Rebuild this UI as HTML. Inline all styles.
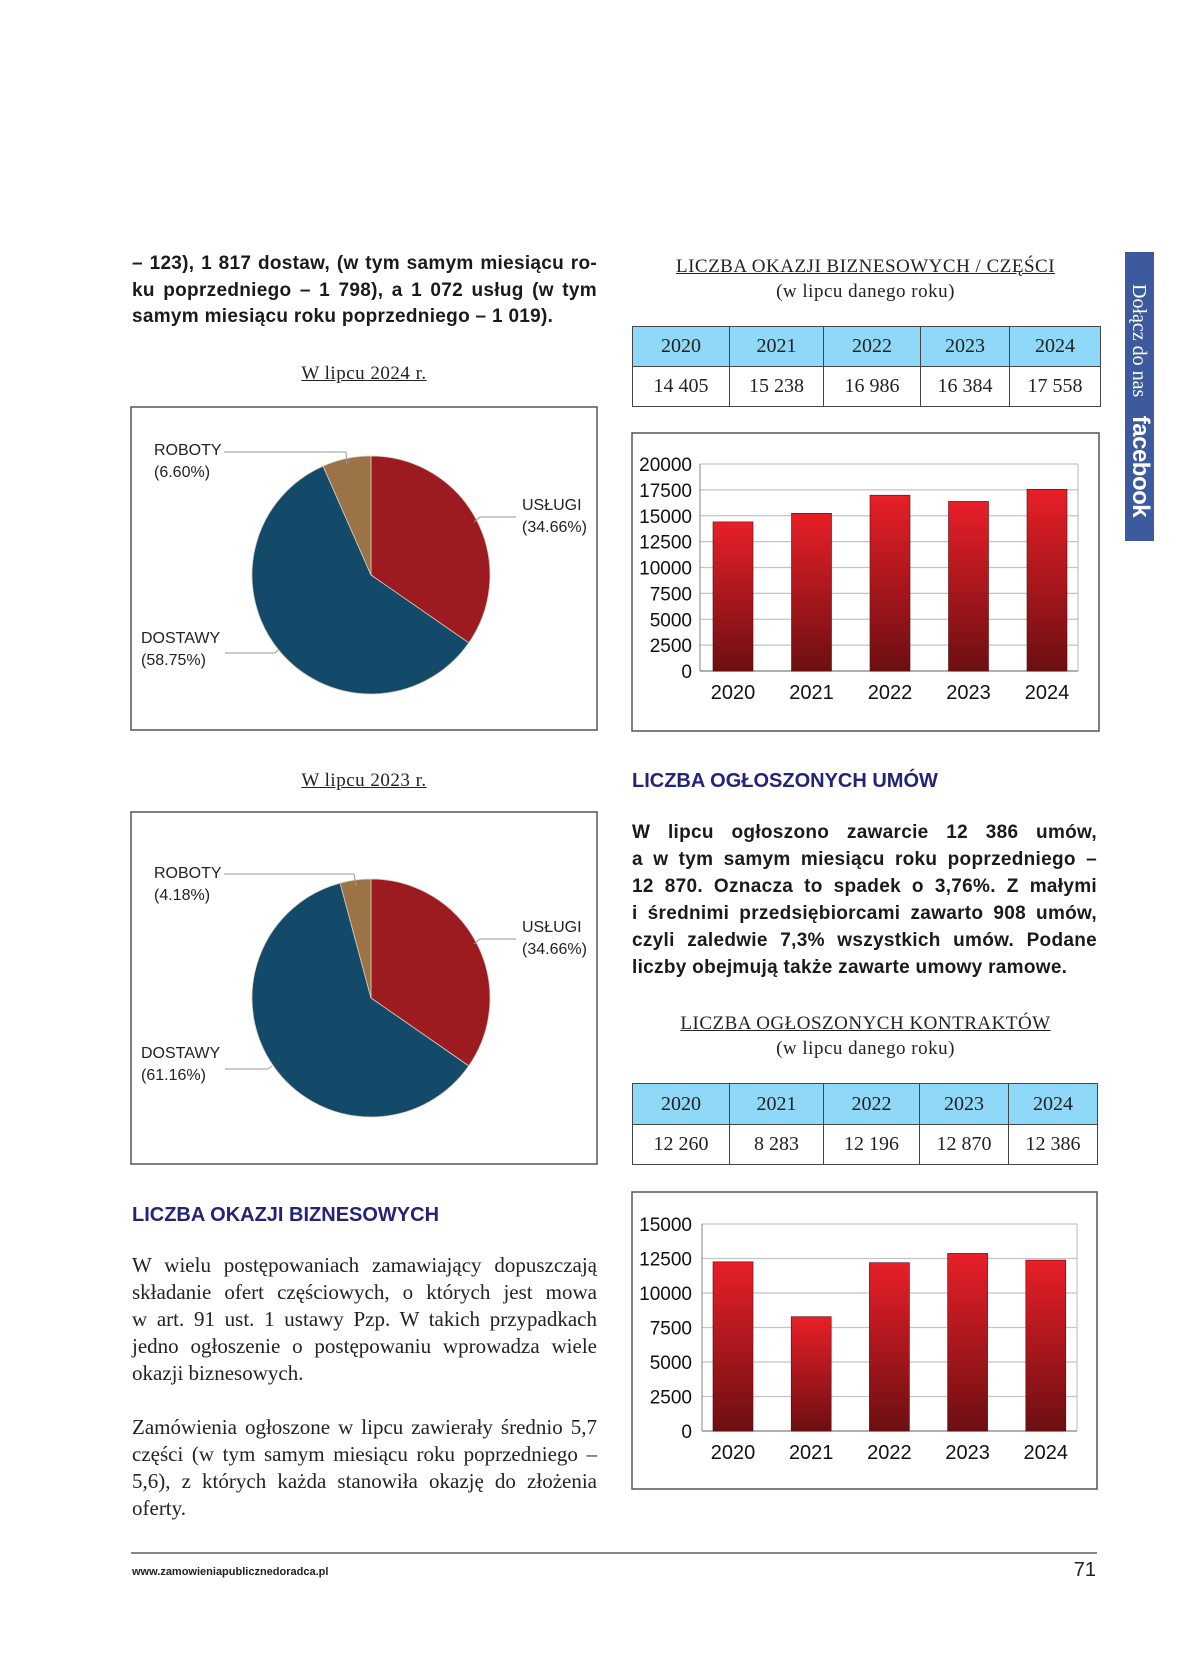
<!DOCTYPE html>
<html><head><meta charset="utf-8">
<style>
body{margin:0;width:1200px;height:1655px;background:#fff;position:relative;overflow:hidden;font-family:"Liberation Sans",sans-serif;color:#1a1a1a}
.abs{position:absolute}
.ln{position:absolute;white-space:nowrap;text-align:justify;text-align-last:justify}
.bold{font-weight:bold;font-size:19px;line-height:27px;letter-spacing:0.3px}
.serif{font-family:"Liberation Serif",serif;font-size:21px;line-height:27px;color:#222}
.head{font-weight:bold;font-size:20px;color:#23237a}
.ctitle{font-family:"Liberation Serif",serif;font-size:19px;color:#222;text-align:center;letter-spacing:0.5px}
table.t{position:absolute;border-collapse:collapse;font-family:"Liberation Serif",serif;font-size:20px;color:#222;table-layout:fixed}
table.t td{border:1px solid #444;text-align:center;padding:0}
table.t tr.h td{background:#8fd8f7}
</style></head><body>

<div class="ln bold" style="left:132px;top:250px;width:465px">– 123), 1 817 dostaw, (w tym samym miesiącu ro-</div>
<div class="ln bold" style="left:132px;top:277px;width:465px">ku poprzedniego – 1 798), a 1 072 usług (w tym</div>
<div class="abs bold" style="left:132px;top:303px;white-space:nowrap">samym miesiącu roku poprzedniego – 1 019).</div>

<div class="abs ctitle" style="left:214px;width:300px;top:363px;text-decoration:underline">W lipcu 2024 r.</div>
<div class="abs ctitle" style="left:214px;width:300px;top:770px;text-decoration:underline">W lipcu 2023 r.</div>

<div class="abs ctitle" style="left:632px;width:467px;top:256px"><u>LICZBA OKAZJI BIZNESOWYCH / CZĘŚCI</u><br><span style="line-height:27px">(w lipcu danego roku)</span></div>

<table class="t" style="left:632px;top:326px;width:468px">
<colgroup><col style="width:97px"><col style="width:94px"><col style="width:97px"><col style="width:89px"><col style="width:91px"></colgroup>
<tr class="h" style="height:40px"><td>2020</td><td>2021</td><td>2022</td><td>2023</td><td>2024</td></tr>
<tr style="height:40px"><td>14 405</td><td>15 238</td><td>16 986</td><td>16 384</td><td>17 558</td></tr>
</table>

<div class="abs head" style="left:632px;top:770px">LICZBA OGŁOSZONYCH UMÓW</div>
<div class="ln bold" style="left:632px;top:819px;width:465px">W lipcu ogłoszono zawarcie 12 386 umów,</div>
<div class="ln bold" style="left:632px;top:846px;width:465px">a w tym samym miesiącu roku poprzedniego –</div>
<div class="ln bold" style="left:632px;top:873px;width:465px">12 870. Oznacza to spadek o 3,76%. Z małymi</div>
<div class="ln bold" style="left:632px;top:900px;width:465px">i średnimi przedsiębiorcami zawarto 908 umów,</div>
<div class="ln bold" style="left:632px;top:927px;width:465px">czyli zaledwie 7,3% wszystkich umów. Podane</div>
<div class="abs bold" style="left:632px;top:954px;white-space:nowrap">liczby obejmują także zawarte umowy ramowe.</div>

<div class="abs ctitle" style="left:632px;width:467px;top:1013px"><u>LICZBA OGŁOSZONYCH KONTRAKTÓW</u><br><span style="line-height:27px">(w lipcu danego roku)</span></div>

<table class="t" style="left:632px;top:1083px;width:465px">
<colgroup><col style="width:97px"><col style="width:94px"><col style="width:96px"><col style="width:89px"><col style="width:89px"></colgroup>
<tr class="h" style="height:41px"><td>2020</td><td>2021</td><td>2022</td><td>2023</td><td>2024</td></tr>
<tr style="height:40px"><td>12 260</td><td>8 283</td><td>12 196</td><td>12 870</td><td>12 386</td></tr>
</table>

<div class="abs head" style="left:132px;top:1204px">LICZBA OKAZJI BIZNESOWYCH</div>
<div class="ln serif" style="left:132px;top:1252px;width:465px">W wielu postępowaniach zamawiający dopuszczają</div>
<div class="ln serif" style="left:132px;top:1279px;width:465px">składanie ofert częściowych, o których jest mowa</div>
<div class="ln serif" style="left:132px;top:1306px;width:465px">w art. 91 ust. 1 ustawy Pzp. W takich przypadkach</div>
<div class="ln serif" style="left:132px;top:1333px;width:465px">jedno ogłoszenie o postępowaniu wprowadza wiele</div>
<div class="abs serif" style="left:132px;top:1360px;white-space:nowrap">okazji biznesowych.</div>
<div class="ln serif" style="left:132px;top:1414px;width:465px">Zamówienia ogłoszone w lipcu zawierały średnio 5,7</div>
<div class="ln serif" style="left:132px;top:1441px;width:465px">części (w tym samym miesiącu roku poprzedniego –</div>
<div class="ln serif" style="left:132px;top:1468px;width:465px">5,6), z których każda stanowiła okazję do złożenia</div>
<div class="abs serif" style="left:132px;top:1495px;white-space:nowrap">oferty.</div>

<div class="abs" style="left:131px;top:1552px;width:966px;height:2px;background:#888"></div>
<div class="abs" style="left:132px;top:1566px;font-size:11px;font-weight:bold;color:#222">www.zamowieniapublicznedoradca.pl</div>
<div class="abs" style="left:1060px;top:1559px;width:36px;text-align:right;font-size:20px;color:#222">71</div>

<div class="abs" style="left:1125px;top:252px;width:29px;height:289px;background:#3d5a9e">
  <div class="abs" style="left:29px;top:32px;transform-origin:0 0;transform:rotate(90deg);white-space:nowrap;color:#fff">
    <span style="font-family:'Liberation Serif',serif;font-size:20px">Dołącz do nas</span>
    <span style="font-weight:bold;font-size:24px;margin-left:14px;letter-spacing:-0.5px">facebook</span>
  </div>
</div>

<svg class="abs" style="left:0;top:0" width="1200" height="1655" id="charts">
<defs><linearGradient id="bg" x1="0" y1="0" x2="0" y2="1"><stop offset="0" stop-color="#e81f28"/><stop offset="1" stop-color="#6c0f12"/></linearGradient></defs>
</svg>

<script>
const years = ["2020","2021","2022","2023","2024"];
const opportunities = [14405,15238,16986,16384,17558];
const oppTicks = [0,2500,5000,7500,10000,12500,15000,17500,20000];
const contracts = [12260,8283,12196,12870,12386];
const contractTicks = [0,2500,5000,7500,10000,12500,15000];
const pieCats = ["USŁUGI","DOSTAWY","ROBOTY"];
const pie2024 = [34.66,58.75,6.60];
const pie2023 = [34.66,61.16,4.18];
const pieColors = ["#9b1b21","#134a69","#9b7346"];

const NS="http://www.w3.org/2000/svg";
const svg=document.getElementById('charts');
function mk(tag,attrs,parent){const e=document.createElementNS(NS,tag);for(const k in attrs)e.setAttribute(k,attrs[k]);(parent||svg).appendChild(e);return e;}

function barChart(box,plot,vals,ticks,maxV,step,name){
  const g=mk('g',{});
  
  
  mk('rect',{x:box.x,y:box.y,width:box.w,height:box.h,fill:'#fff',stroke:'#555','stroke-width':1.5},g);
  const y=v=>plot.b-(v/maxV)*(plot.b-plot.t);
  const xc=i=>plot.c0+i*step;
  ticks.forEach(t=>{
    mk('line',{x1:plot.l,x2:plot.r,y1:y(t),y2:y(t),stroke:'#c4c4c4','stroke-width':1.2},g);
    const tx=mk('text',{x:692,y:y(t)+7,'text-anchor':'end','font-size':19,'font-family':'Liberation Sans, sans-serif',fill:'#111'},g);
    tx.textContent=t;
    
    
  });
  mk('line',{x1:plot.r,x2:plot.r,y1:plot.t,y2:plot.b,stroke:'#c4c4c4','stroke-width':1.2},g);
  mk('line',{x1:plot.l,x2:plot.l,y1:plot.t,y2:plot.b,stroke:'#999','stroke-width':1.2},g);
  mk('line',{x1:plot.l,x2:plot.r,y1:plot.b,y2:plot.b,stroke:'#999','stroke-width':1.5},g);
  vals.forEach((v,i)=>{
    const r=mk('rect',{x:xc(i)-20,y:y(v),width:40,height:plot.b-y(v),fill:'url(#bg)',stroke:'#5a0a0c','stroke-width':0.6},g);
    
    
    const tx=mk('text',{x:xc(i),y:plot.b+28,'text-anchor':'middle','font-size':20,'font-family':'Liberation Sans, sans-serif',fill:'#111'},g);
    tx.textContent=years[i];
    
    
  });
}
barChart({x:632,y:433,w:467,h:298},{l:700,r:1078,t:464,b:671,c0:733},opportunities,oppTicks,20000,78.5,'bar-chart-opportunities');
barChart({x:632,y:1192,w:465,h:297},{l:702,r:1077,t:1224,b:1431,c0:733},contracts,contractTicks,15000,78.2,'bar-chart-contracts');

function pie(box,cx,cy,r,vals,labels,name){
  const g=mk('g',{});
  
  
  mk('rect',{x:box.x,y:box.y,width:box.w,height:box.h,fill:'#fff',stroke:'#555','stroke-width':1.5},g);
  const tot=vals.reduce((a,b)=>a+b,0);
  let a0=-Math.PI/2;
  vals.forEach((v,i)=>{
    const a1=a0+v/tot*2*Math.PI;
    const large=(a1-a0)>Math.PI?1:0;
    const p=mk('path',{d:`M${cx},${cy} L${cx+r*Math.cos(a0)},${cy+r*Math.sin(a0)} A${r},${r} 0 ${large} 1 ${cx+r*Math.cos(a1)},${cy+r*Math.sin(a1)} Z`,fill:pieColors[i],stroke:'#d8cfc0','stroke-width':0.8},g);
    
    
    a0=a1;
  });
  labels.forEach(L=>{
    mk('polyline',{points:L.line,fill:'none',stroke:'#999','stroke-width':1},g);
    const t=mk('text',{x:L.x,y:L.y,'font-size':16,'font-family':'Liberation Sans, sans-serif',fill:'#222'},g);
    t.textContent=L.name;
    
    
    const t2=mk('text',{x:L.x,y:L.y+22,'font-size':16,'font-family':'Liberation Sans, sans-serif',fill:'#222'},g);
    t2.textContent='('+L.v.toFixed(2)+'%)';
    
    
  });
}
pie({x:131,y:407,w:466,h:323},371,575,119,pie2024,[
  {name:'ROBOTY',v:pie2024[2],x:154,y:455,line:'224,452 346,452 347,465'},
  {name:'USŁUGI',v:pie2024[0],x:522,y:510,line:'516,517 480,517 474,522'},
  {name:'DOSTAWY',v:pie2024[1],x:141,y:643,line:'225,653 275,653 278,650'}
],'pie-chart-2024');
pie({x:131,y:812,w:466,h:352},371,998,119,pie2023,[
  {name:'ROBOTY',v:pie2023[2],x:154,y:878,line:'224,874 354,874 356,886'},
  {name:'USŁUGI',v:pie2023[0],x:522,y:932,line:'516,939 480,939 474,944'},
  {name:'DOSTAWY',v:pie2023[1],x:141,y:1058,line:'225,1069 268,1069 272,1066'}
],'pie-chart-2023');
</script>
</body></html>
